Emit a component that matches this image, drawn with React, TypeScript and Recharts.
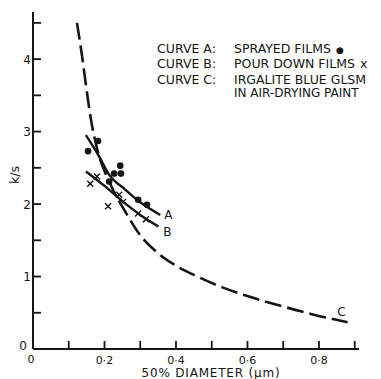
import React from "react";
import { ComposedChart, Line, Scatter, XAxis, YAxis } from "recharts";

const curveA = [
  { x: 0.148, y: 2.95 },
  { x: 0.188, y: 2.63 },
  { x: 0.211, y: 2.42 },
  { x: 0.258, y: 2.2 },
  { x: 0.304, y: 2.01 },
  { x: 0.356, y: 1.85 },
];
const curveB = [
  { x: 0.148, y: 2.45 },
  { x: 0.2, y: 2.25 },
  { x: 0.25, y: 2.04 },
  { x: 0.3, y: 1.85 },
  { x: 0.351, y: 1.69 },
];
const curveC = [
  { x: 0.123, y: 4.5 },
  { x: 0.137, y: 4.05 },
  { x: 0.146, y: 3.72 },
  { x: 0.162, y: 3.17 },
  { x: 0.18, y: 2.75 },
  { x: 0.216, y: 2.28 },
  { x: 0.26, y: 1.88 },
  { x: 0.3, y: 1.57 },
  { x: 0.35, y: 1.32 },
  { x: 0.4, y: 1.15 },
  { x: 0.46, y: 1.0 },
  { x: 0.53, y: 0.85 },
  { x: 0.6, y: 0.73 },
  { x: 0.69, y: 0.6 },
  { x: 0.78, y: 0.48 },
  { x: 0.88, y: 0.37 },
];
const sprayed = [
  { x: 0.154, y: 2.73 },
  { x: 0.182, y: 2.87 },
  { x: 0.213, y: 2.31 },
  { x: 0.227, y: 2.42 },
  { x: 0.244, y: 2.53 },
  { x: 0.246, y: 2.42 },
  { x: 0.294, y: 2.06 },
  { x: 0.319, y: 1.99 },
];
const pourDown = [
  { x: 0.16, y: 2.28 },
  { x: 0.179, y: 2.38 },
  { x: 0.21, y: 1.97 },
  { x: 0.241, y: 2.13 },
  { x: 0.252, y: 2.03 },
  { x: 0.294, y: 1.87 },
  { x: 0.316, y: 1.79 },
];
const xTicks = [0, 0.1, 0.2, 0.3, 0.4, 0.5, 0.6, 0.7, 0.8, 0.9];
const xTickLabels: Record<string, string> = { "0": "0", "0.2": "0·2", "0.4": "0·4", "0.6": "0·6", "0.8": "0·8" };
const yTicks = [0, 0.5, 1, 1.5, 2, 2.5, 3, 3.5, 4, 4.5];
const yTickLabels: Record<string, string> = { "0": "0", "1": "1", "2": "2", "3": "3", "4": "4" };
const legendKeys = ["CURVE A:", "CURVE B:", "CURVE C:", ""];
const legendTexts = ["SPRAYED FILMS", "POUR DOWN FILMS", "IRGALITE BLUE GLSM", "IN AIR-DRYING PAINT"];
const legendMarks = ["●", "x", "", ""];
const curveNames = ["A", "B", "C"];

const INK = "#151515";
const FONT = "DejaVu Sans, sans-serif";
const AXIS_Y = 349;
const AXIS_X = 33;

const XTick = (props: any) => {
  const { x, payload } = props;
  const v = payload.value;
  const lbl = xTickLabels[String(Math.round(v * 10) / 10)];
  return (
    <g>
      {v > 0 && <line x1={x} x2={x} y1={AXIS_Y} y2={AXIS_Y - 8} stroke={INK} strokeWidth={1.8} />}
      {lbl && (
        <text x={v === 0 ? x - 2 : x} y={v === 0 ? 362.5 : 364} textAnchor="middle" fontSize={11} fontFamily={FONT} fill={INK}>
          {lbl}
        </text>
      )}
    </g>
  );
};

const YTick = (props: any) => {
  const { y, payload } = props;
  const v = payload.value;
  const lbl = yTickLabels[String(v)];
  return (
    <g>
      {v > 0 && <line x1={AXIS_X} x2={AXIS_X + 8} y1={y} y2={y} stroke={INK} strokeWidth={1.8} />}
      {lbl && (
        <text x={v === 0 ? 27 : 31} y={v === 0 ? y + 1 : y + 4.5} textAnchor="end" fontSize={12} fontFamily={FONT} fill={INK}>
          {lbl}
        </text>
      )}
    </g>
  );
};

const Dot = (props: any) => <circle cx={props.cx} cy={props.cy} r={3.3} fill={INK} />;
const Cross = (props: any) => {
  const { cx, cy } = props;
  const s = 3;
  return (
    <g stroke={INK} strokeWidth={1.4}>
      <line x1={cx - s} y1={cy - s} x2={cx + s} y2={cy + s} />
      <line x1={cx - s} y1={cy + s} x2={cx + s} y2={cy - s} />
    </g>
  );
};

const endLabel = (name: string, n: number, dx: number, dy: number) => (props: any) => {
  if (props.index !== n - 1) return null;
  return (
    <text x={props.x + dx} y={props.y + dy} textAnchor="middle" fontSize={12} fontFamily={FONT} fill={INK}>
      {name}
    </text>
  );
};

export default function App() {
  const ys = [52.5, 68, 83.5, 97];
  return (
    <div style={{ position: "absolute", left: 0, top: 0, width: 381, height: 379, background: "#fff" }}>
      <ComposedChart width={381} height={379} margin={{ top: 12, right: 22, bottom: 0, left: 0 }}>
        <XAxis
          type="number"
          dataKey="x"
          domain={[0, 0.912]}
          ticks={xTicks}
          tick={<XTick />}
          tickLine={false}
          axisLine={{ stroke: INK, strokeWidth: 2 }}
          height={30}
          allowDataOverflow
        />
        <YAxis
          type="number"
          dataKey="y"
          domain={[0, 4.65]}
          ticks={yTicks}
          tick={<YTick />}
          tickLine={false}
          axisLine={{ stroke: INK, strokeWidth: 2 }}
          width={33}
          allowDataOverflow
        />
        <Line data={curveC} dataKey="y" type="monotone" stroke={INK} strokeWidth={2.6} strokeDasharray="17 6" dot={false} isAnimationActive={false} label={endLabel(curveNames[2], curveC.length, -6, -6)} />
        <Line data={curveA} dataKey="y" type="monotone" stroke={INK} strokeWidth={2.4} dot={false} isAnimationActive={false} label={endLabel(curveNames[0], curveA.length, 8, 4)} />
        <Line data={curveB} dataKey="y" type="monotone" stroke={INK} strokeWidth={2.4} dot={false} isAnimationActive={false} label={endLabel(curveNames[1], curveB.length, 9, 9)} />
        <Scatter data={sprayed} dataKey="y" shape={<Dot />} isAnimationActive={false} />
        <Scatter data={pourDown} dataKey="y" shape={<Cross />} isAnimationActive={false} />
      </ComposedChart>
      <svg width={381} height={379} style={{ position: "absolute", left: 0, top: 0, pointerEvents: "none" }}>
        <g fontFamily={FONT} fontSize={12.5} fill={INK}>
          {legendTexts.map((t, i) => (
            <g key={i}>
              {legendKeys[i] && <text x={157} y={ys[i]}>{legendKeys[i]}</text>}
              <text x={234} y={ys[i]} fontSize={i === 3 ? 12 : 12.5}>
                {t}
                {legendMarks[i] && (
                  <tspan fontSize={legendMarks[i] === "●" ? 9 : 12.5} dx={5}>{legendMarks[i]}</tspan>
                )}
              </text>
            </g>
          ))}
          <text x={211} y={377} textAnchor="middle" fontSize={12} letterSpacing={0.8}>50% DIAMETER (μm)</text>
          <text x={14} y={175} textAnchor="middle" dominantBaseline="central" transform="rotate(-90 14 175)">k/s</text>
        </g>
      </svg>
    </div>
  );
}
